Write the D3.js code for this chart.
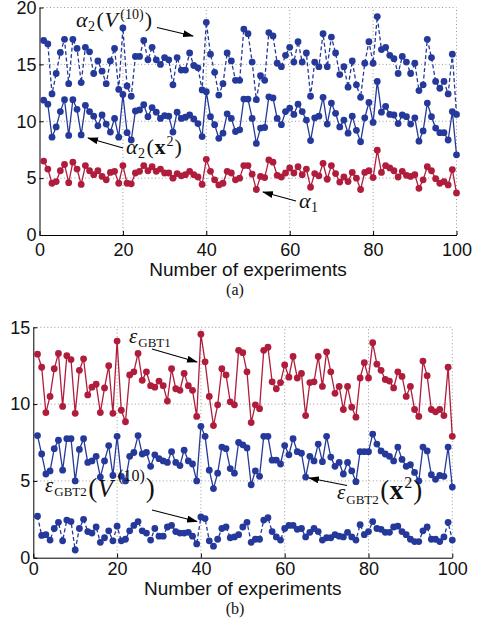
<!DOCTYPE html>
<html>
<head>
<meta charset="utf-8">
<script src="https://cdn.jsdelivr.net/npm/d3@7"></script>
<style>
  body { margin: 0; background: #fff; }
  svg { display: block; }
</style>
</head>
<body>
<script>
const width = 485;
const height = 624;

// panel (a)
const alpha2V10 = [
  17.1, 16.8, 12.4, 14.2, 16.05, 17.2, 13.3, 17.2, 16.4, 13.4,
  16.5, 16.1, 14.2, 15.3, 14.4, 13.3, 15.3, 16.4, 12.8, 18.2,
  13.1, 12.2, 15.7, 15.7, 17.1, 15.4, 16.5, 15.4, 15.0, 15.6,
  15.4, 13.2, 15.6, 14.5, 14.5, 16.0, 14.9, 14.7, 12.75, 18.7,
  15.9, 14.3, 12.3, 13.3, 16.0, 15.3, 13.6, 13.6, 18.1, 17.7,
  15.2, 11.9, 14.0, 13.6, 17.8, 17.5, 15.1, 14.8, 15.8, 16.5,
  15.2, 17.0, 15.2, 16.0, 12.2, 15.2, 14.8, 17.7, 14.8, 17.4,
  16.0, 14.1, 14.8, 13.0, 15.3, 13.2, 12.1, 15.1, 17.0, 15.1,
  19.2, 16.3, 16.5, 15.8, 15.5, 14.2, 15.7, 15.2, 14.2, 15.1,
  12.7, 13.2, 17.2, 15.6, 13.5, 12.9, 13.5, 12.4, 15.9, 10.6
];
const alpha2X2 = [
  11.85, 11.5, 8.6, 9.5, 10.85, 11.9, 8.75, 11.9, 11.05, 8.8,
  11.4, 10.85, 10.45, 9.6, 10.55, 9.75, 9.05, 10.25, 8.6, 12.35,
  9.0, 8.35, 10.9, 11.0, 11.45, 10.4, 11.2, 10.8, 10.25, 10.5,
  10.45, 9.05, 10.8, 10.25, 10.35, 10.55, 10.2, 9.8, 8.65, 12.6,
  10.4, 9.7, 8.5, 8.95, 10.65, 10.25, 9.1, 9.25, 11.95, 11.95,
  10.25, 8.05, 9.4, 9.45, 12.15, 12.05, 10.25, 9.7, 10.85, 11.15,
  10.6, 11.5, 10.85, 10.1, 8.3, 10.3, 10.45, 12.1, 9.75, 11.6,
  10.7, 9.5, 10.1, 8.95, 10.45, 9.2, 8.2, 10.3, 11.65, 9.9,
  13.5, 10.8, 11.3, 10.6, 10.55, 9.8, 10.55, 10.4, 9.75, 10.3,
  8.25, 9.15, 11.6, 10.4, 9.4, 9.0, 9.0, 8.35, 10.85, 7.05
];
const alpha1 = [
  6.5, 5.8, 4.55, 4.7, 5.65, 6.2, 4.6, 6.4, 5.8, 4.45,
  6.1, 5.65, 5.3, 5.65, 5.15, 4.85, 5.5, 5.6, 4.55, 6.1,
  4.55, 4.5, 5.45, 5.6, 6.1, 5.65, 6.0, 5.6, 5.8, 5.45,
  5.45, 5.0, 5.4, 5.2, 5.3, 5.6, 5.3, 5.1, 4.45, 6.65,
  5.6, 4.85, 4.4, 4.55, 5.6, 5.45, 4.85, 5.0, 6.1, 6.1,
  5.35, 4.0, 5.15, 5.05, 6.6, 6.4, 5.25, 5.1, 5.45, 5.9,
  5.45, 6.0, 5.3, 5.8, 4.2, 5.4, 5.2, 6.3, 4.9, 6.1,
  5.4, 4.65, 5.1, 4.7, 5.5, 5.0, 4.0, 5.5, 5.65, 5.05,
  7.45, 5.5, 6.1, 5.9, 5.65, 5.1, 5.6, 5.25, 5.15, 5.3,
  4.1, 4.85, 6.0, 5.65, 4.95, 4.55, 4.7, 4.4, 5.75, 3.7
];

// panel (b)
const epsGbt1 = [
  13.25, 12.4, 9.45, 10.5, 12.3, 13.3, 9.85, 13.15, 12.9, 9.4,
  12.2, 12.95, 10.6, 11.1, 11.3, 9.45, 11.05, 12.5, 9.4, 14.1,
  9.6, 8.85, 11.9, 12.1, 13.3, 11.55, 12.1, 11.2, 11.1, 11.5,
  11.2, 10.2, 12.3, 11.0, 10.9, 12.0, 11.2, 10.9, 9.2, 14.55,
  12.75, 10.5, 8.6, 9.95, 12.3, 11.9, 10.15, 9.95, 13.5, 13.35,
  12.1, 8.8, 9.95, 9.7, 13.5, 13.7, 11.45, 11.0, 11.4, 12.55,
  11.75, 13.1, 11.7, 12.0, 9.25, 11.4, 11.45, 13.1, 11.15, 13.4,
  12.1, 10.7, 11.15, 9.65, 11.15, 9.8, 9.15, 11.7, 12.7, 11.7,
  14.0, 12.6, 12.2, 11.6, 11.5, 11.05, 12.1, 11.8, 10.5, 11.15,
  9.65, 9.2, 12.8, 11.85, 9.65, 9.5, 9.65, 9.25, 12.4, 7.9
];
const epsGbt2X2 = [
  7.95, 6.75, 5.45, 5.65, 7.1, 7.65, 5.7, 7.75, 7.75, 5.0,
  7.05, 7.75, 6.2, 6.3, 6.6, 5.25, 6.3, 7.3, 5.35, 7.9,
  5.3, 5.0, 6.6, 6.85, 7.95, 6.75, 6.85, 5.95, 6.7, 6.45,
  6.3, 6.2, 6.9, 6.2, 6.0, 7.0, 6.3, 6.1, 5.0, 8.55,
  7.9, 5.7, 4.5, 5.5, 7.2, 7.1, 5.8, 5.5, 7.5, 7.35,
  7.15, 4.75, 5.65, 5.3, 7.9, 7.9, 6.35, 6.35, 6.1, 7.3,
  6.7, 7.75, 6.9, 6.8, 5.25, 6.6, 6.3, 7.4, 6.25, 7.9,
  6.55, 5.95, 6.2, 5.45, 6.2, 5.65, 4.95, 6.9, 6.9, 6.9,
  8.05, 7.4, 6.95, 6.75, 6.6, 6.3, 7.2, 6.4, 5.95, 6.05,
  5.55, 5.0, 7.2, 6.95, 5.4, 5.1, 5.35, 5.3, 7.2, 4.6
];
const epsGbt2V10 = [
  2.7, 1.45, 1.5, 1.15, 1.9, 2.3, 1.1, 2.45, 2.35, 0.5,
  1.9, 2.5, 1.7, 1.6, 2.0, 1.0, 1.3, 1.75, 1.1, 2.05,
  1.1, 1.2, 1.75, 2.1, 2.35, 1.75, 1.6, 1.15, 1.9, 1.4,
  1.4, 2.0, 2.1, 1.7, 1.6, 1.6, 1.65, 1.4, 0.9, 2.65,
  2.55, 1.1, 0.75, 1.2, 1.9, 2.0, 1.3, 1.35, 1.5, 2.0,
  2.3, 1.0, 1.2, 1.2, 2.45, 2.6, 1.7, 1.35, 1.15, 1.9,
  2.1, 2.1, 1.85, 1.9, 1.35, 1.65, 1.9, 1.7, 1.15, 1.3,
  1.3, 1.5, 1.4, 1.35, 1.65, 1.35, 1.15, 2.15, 1.5, 1.7,
  2.35, 1.9, 1.85, 1.65, 1.65, 2.0, 2.05, 1.7, 1.5, 1.2,
  1.05, 1.05, 1.75, 2.0, 1.2, 1.2, 1.05, 1.35, 2.3, 1.15
];

const experiments = d3.range(1, 101);
const xTicks = [0, 20, 40, 60, 80, 100];
const topYTicks = [0, 5, 10, 15, 20];
const bottomYTicks = [0, 5, 10, 15];

const red = "#b01c3c";
const blue = "#24399a";
const serif = "'Liberation Serif', 'DejaVu Serif', serif";
const sans = "'Liberation Sans', Arial, sans-serif";

const svg = d3
  .select("body")
  .append("svg")
  .attr("width", width)
  .attr("height", height);

svg
  .append("defs")
  .append("marker")
  .attr("id", "head")
  .attr("markerUnits", "userSpaceOnUse")
  .attr("markerWidth", 11)
  .attr("markerHeight", 7)
  .attr("refX", 10)
  .attr("refY", 3.5)
  .attr("orient", "auto")
  .append("path")
  .attr("d", "M0,0L11,3.5L0,7Z")
  .attr("fill", "#000");

function panel(left, right, bottom, top, yMax, yTicks, pad, labelY, tag, tagY) {
  const x = d3.scaleLinear().domain([0, 100]).range([left, right]);
  const y = d3.scaleLinear().domain([0, yMax]).range([bottom, top]);
  const g = svg.append("g");

  // dotted grid
  g.append("g")
    .selectAll("line")
    .data(xTicks.slice(1))
    .join("line")
    .attr("x1", (d) => x(d))
    .attr("x2", (d) => x(d))
    .attr("y1", bottom)
    .attr("y2", top)
    .attr("stroke", "#999")
    .attr("stroke-dasharray", "1,2.5");
  g.append("g")
    .selectAll("line")
    .data(yTicks.slice(1))
    .join("line")
    .attr("x1", left)
    .attr("x2", right)
    .attr("y1", (d) => y(d))
    .attr("y2", (d) => y(d))
    .attr("stroke", "#999")
    .attr("stroke-dasharray", "1,2.5");

  const xAxis = g
    .append("g")
    .attr("transform", `translate(0,${bottom})`)
    .call(d3.axisBottom(x).tickValues(xTicks).tickSize(-4).tickSizeOuter(0).tickPadding(pad));
  const yAxis = g
    .append("g")
    .attr("transform", `translate(${left},0)`)
    .call(d3.axisLeft(y).tickValues(yTicks).tickSize(-4).tickSizeOuter(0).tickPadding(3));
  [xAxis, yAxis].forEach((a) => {
    a.attr("font-family", sans).attr("font-size", 18);
    a.selectAll("text").attr("fill", "#111");
    a.selectAll("path, line").attr("stroke", "#000");
  });

  g.append("text")
    .attr("x", (left + right) / 2)
    .attr("y", labelY)
    .attr("text-anchor", "middle")
    .attr("font-family", sans)
    .attr("font-size", 19)
    .attr("fill", "#111")
    .text("Number of experiments");

  g.append("text")
    .attr("x", 235)
    .attr("y", tagY)
    .attr("text-anchor", "middle")
    .attr("font-family", serif)
    .attr("font-size", 16)
    .attr("fill", "#111")
    .text(tag);

  return { x, y, g };
}

function series(p, values, color, dashed) {
  const line = d3
    .line()
    .x((d, i) => p.x(experiments[i]))
    .y((d) => p.y(d));
  p.g.append("path")
    .datum(values)
    .attr("d", line)
    .attr("fill", "none")
    .attr("stroke", color)
    .attr("stroke-width", 1.3)
    .attr("stroke-dasharray", dashed ? "4,2.5" : null);
  p.g.append("g")
    .selectAll("circle")
    .data(values)
    .join("circle")
    .attr("cx", (d, i) => p.x(experiments[i]))
    .attr("cy", (d) => p.y(d))
    .attr("r", 3.4)
    .attr("fill", color);
}

function arrow(x1, y1, x2, y2) {
  svg.append("line")
    .attr("x1", x1).attr("y1", y1)
    .attr("x2", x2).attr("y2", y2)
    .attr("stroke", "#000")
    .attr("stroke-width", 1.1)
    .attr("marker-end", "url(#head)");
}

// parts: [text, size, baselineShift, style, gapBefore]
function mathLabel(x, y, parts) {
  const t = svg.append("text")
    .attr("x", x)
    .attr("y", y)
    .attr("font-family", serif)
    .attr("fill", "#111");
  let prev = 0;
  parts.forEach(([s, size, shift, style, gap]) => {
    t.append("tspan")
      .attr("font-size", size)
      .attr("dx", gap || 0)
      .attr("dy", shift - prev)
      .attr("font-style", style === "i" ? "italic" : null)
      .attr("font-weight", style === "b" ? "bold" : null)
      .text(s);
    prev = shift;
  });
}

// (a)
const a = panel(39.5, 456.5, 235, 7.5, 20, topYTicks, 8, 276, "(a)", 295);
series(a, alpha1, red, false);
series(a, alpha2X2, blue, false);
series(a, alpha2V10, blue, true);

mathLabel(76, 27, [["α", 22, 0, "i"], ["2", 14, 4, null, 0.5], ["(", 22, 0, null, 1.5], ["V", 22, 0, "i", 0.5], ["(10)", 14, -8, null, 2.5], [")", 22, 0, null, 1]]);
arrow(157, 27.5, 193, 36);
mathLabel(126, 154, [["α", 22, 0, "i"], ["2", 14, 4, null, 0.5], ["(", 22, 0, null, 1.5], ["x", 22, 0, "b", 0.5], ["2", 14, -8, null, 1], [")", 22, 0, null, 1]]);
arrow(123, 148, 88, 138);
mathLabel(299, 208, [["α", 22, 0, "i"], ["1", 14, 4, null, 0.5]]);
arrow(296, 201, 263, 192);

// (b)
const b = panel(33.3, 452.3, 557.7, 327.3, 15, bottomYTicks, 5, 595, "(b)", 614);
series(b, epsGbt1, red, false);
series(b, epsGbt2X2, blue, false);
series(b, epsGbt2V10, blue, true);

mathLabel(129, 343, [["ε", 21, 0, "i"], ["GBT1", 13, 4, null, 1]]);
arrow(152, 349, 197, 362);
mathLabel(45, 492, [["ε", 21, 0, "i"], ["GBT2", 13, 4, null, 1], ["(", 27, 5, null, 1.5], ["V", 25, 5, "i", 0.5], ["(10)", 16, -11, null, 5], [")", 27, 5, null, 1]]);
arrow(152, 510, 197, 521.5);
mathLabel(337, 499, [["ε", 21, 0, "i"], ["GBT2", 13, 5, null, 1], ["(", 27, 0, null, 1.5], ["x", 27, 0, "b", 0.5], ["2", 16, -11, null, 1], [")", 27, 0, null, 1]]);
arrow(347, 485.5, 309, 478);
</script>
</body>
</html>
